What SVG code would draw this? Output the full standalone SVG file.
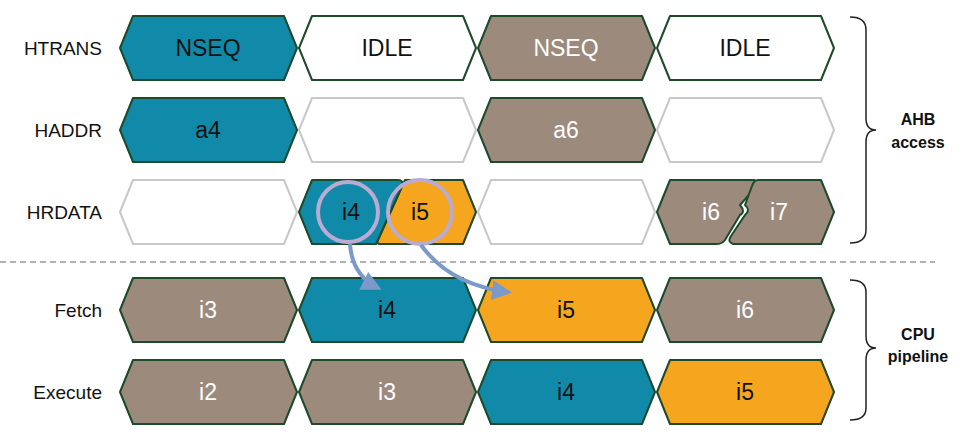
<svg xmlns="http://www.w3.org/2000/svg" xmlns:xlink="http://www.w3.org/1999/xlink" width="973" height="448" viewBox="0 0 973 448">
<defs>
<polygon id="hex" points="0,0 13,-32 164,-32 177,0 164,32 13,32"/>
<marker id="ah" viewBox="0 0 10 10" refX="8" refY="5" markerWidth="5" markerHeight="5" orient="auto"><path d="M0,0 L10,5 L0,10 z" fill="#7b9ac9"/></marker>
</defs>
<style>
.t{fill:#118aa9;stroke:#1e4a2c;stroke-width:2;stroke-linejoin:round}
.b{fill:#9c8b7d;stroke:#1e4a2c;stroke-width:2;stroke-linejoin:round}
.o{fill:#f6a61e;stroke:#1e4a2c;stroke-width:2;stroke-linejoin:round}
.w{fill:#fff;stroke:#1e4a2c;stroke-width:2;stroke-linejoin:round}
.g{fill:#fff;stroke:#c8c8c8;stroke-width:2;stroke-linejoin:round}
text{font-family:"Liberation Sans",Arial,sans-serif}
.lbl{font-size:19px;text-anchor:end;fill:#111}
.v{font-size:23px;text-anchor:middle;fill:#111}
.vw{font-size:23px;text-anchor:middle;fill:#fff}
.br{font-size:16px;font-weight:bold;text-anchor:middle;fill:#111}
.brace{fill:none;stroke:#222;stroke-width:1.5}
.circ{fill:none;stroke:#b9abd2;stroke-width:4}
.arr{fill:none;stroke:#7b9ac9;stroke-width:4;marker-end:url(#ah)}
</style>
<rect width="973" height="448" fill="#fff"/>
<g id="labels">
<text class="lbl" x="102" y="55">HTRANS</text>
<text class="lbl" x="102" y="137">HADDR</text>
<text class="lbl" x="102" y="219">HRDATA</text>
<text class="lbl" x="102" y="317">Fetch</text>
<text class="lbl" x="102" y="399">Execute</text>
</g>
<g id="htrans">
<use href="#hex" x="120" y="48" class="t"/><text class="v" x="208" y="56">NSEQ</text>
<use href="#hex" x="299" y="48" class="w"/><text class="v" x="387" y="56">IDLE</text>
<use href="#hex" x="478" y="48" class="b"/><text class="vw" x="566" y="56">NSEQ</text>
<use href="#hex" x="657" y="48" class="w"/><text class="v" x="745" y="56">IDLE</text>
</g>
<g id="haddr">
<use href="#hex" x="120" y="130" class="t"/><text class="v" x="208" y="138">a4</text>
<use href="#hex" x="299" y="130" class="g"/>
<use href="#hex" x="478" y="130" class="b"/><text class="vw" x="566" y="138">a6</text>
<use href="#hex" x="657" y="130" class="g"/>
</g>
<g id="hrdata">
<use href="#hex" x="120" y="212" class="g"/>
<path class="o" d="M405,180 L463,180 L476,212 L463,244 L380,244 Q376,244 378,240 Z"/>
<path class="t" d="M299,212 L312,180 L398,180 Q404,180 402,186 L376,244 L312,244 Z"/>
<use href="#hex" x="478" y="212" class="g"/>
<path class="b" d="M657,212 L670,180 L754,180 Q760,182 755,188 L740,205 Q746,212 740,215 L725,240 Q722,244 716,244 L670,244 Z"/>
<path class="b" d="M758,180 L821,180 L834,212 L821,244 L733,244 Q727,242 731,236 L745,215 Q751,210 745,205 L752,186 Q754,180 758,180 Z"/>
<text class="vw" x="711" y="220">i6</text>
<text class="vw" x="779" y="220">i7</text>
<text class="v" x="351" y="220">i4</text>
<text class="v" x="420" y="220">i5</text>
</g>
<g id="fetch">
<use href="#hex" x="120" y="310" class="b"/><text class="vw" x="208" y="318">i3</text>
<use href="#hex" x="299" y="310" class="t"/><text class="v" x="387" y="318">i4</text>
<use href="#hex" x="478" y="310" class="o"/><text class="v" x="566" y="318">i5</text>
<use href="#hex" x="657" y="310" class="b"/><text class="vw" x="745" y="318">i6</text>
</g>
<g id="execute">
<use href="#hex" x="120" y="392" class="b"/><text class="vw" x="208" y="400">i2</text>
<use href="#hex" x="299" y="392" class="b"/><text class="vw" x="387" y="400">i3</text>
<use href="#hex" x="478" y="392" class="t"/><text class="v" x="566" y="400">i4</text>
<use href="#hex" x="657" y="392" class="o"/><text class="v" x="745" y="400">i5</text>
</g>
<g id="connectors">
<line x1="0" y1="262" x2="935" y2="262" stroke="#999" stroke-width="1.5" stroke-dasharray="6,4"/>
<circle class="circ" cx="348" cy="212" r="30"/>
<circle class="circ" cx="420" cy="212" r="32"/>
<path class="arr" d="M350,244 Q352,275 378,288"/>
<path class="arr" d="M421,245 Q450,285 508,292"/>
<path class="brace" d="M850,17 Q866,17 866,30 L866,118 Q866,130 876,130 Q866,130 866,142 L866,230 Q866,243 850,243"/>
<path class="brace" d="M850,280 Q866,280 866,292 L866,336 Q866,348 876,348 Q866,348 866,360 L866,408 Q866,420 850,420"/>
<text class="br" x="918" y="125">AHB</text>
<text class="br" x="918" y="148">access</text>
<text class="br" x="918" y="340">CPU</text>
<text class="br" x="918" y="362">pipeline</text>
</g>
</svg>
